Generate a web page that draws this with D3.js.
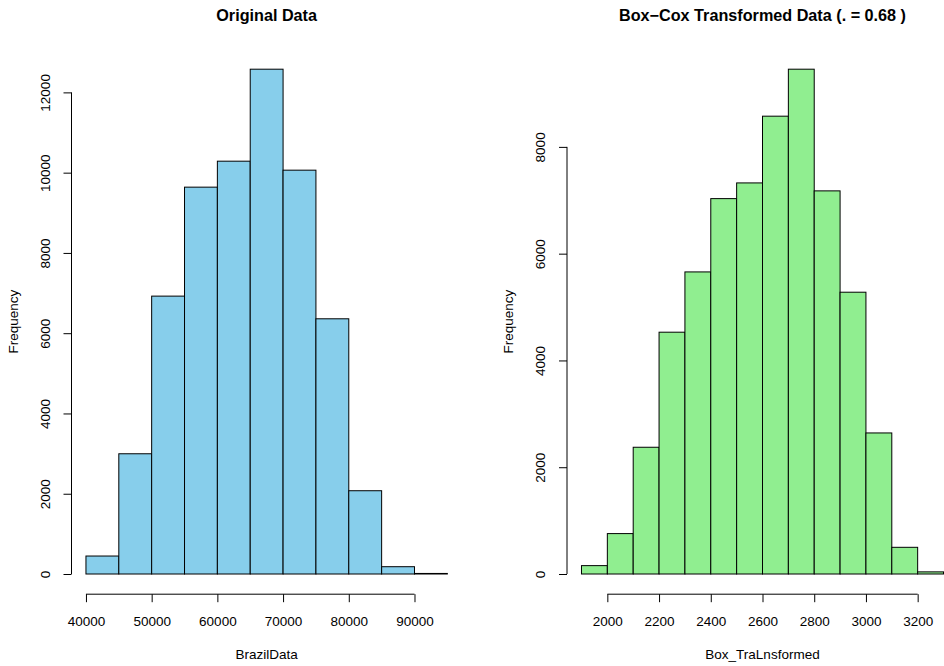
<!DOCTYPE html>
<html>
<head>
<meta charset="utf-8">
<script src="https://cdn.jsdelivr.net/npm/d3@7"></script>
<style>
	body { margin: 0; background: #fff; }
	svg { display: block; font-family: "Liberation Sans", Arial, sans-serif; }
	.tick text { font-size: 13.5px; fill: #000; }
</style>
</head>
<body>
<svg id="chart" width="944" height="666"></svg>
<script>

// Histogram bins, left panel
const brazilBreaks = [40000, 45000, 50000, 55000, 60000, 65000, 70000, 75000, 80000, 85000, 90000, 95000];
const brazilCounts = [448, 2996, 6924, 9639, 10286, 12578, 10062, 6359, 2075, 182, 14];
const brazilXTicks = [40000, 50000, 60000, 70000, 80000, 90000];
const brazilYTicks = [0, 2000, 4000, 6000, 8000, 10000, 12000];

// Histogram bins, right panel
const boxBreaks = [1900, 2000, 2100, 2200, 2300, 2400, 2500, 2600, 2700, 2800, 2900, 3000, 3100, 3200, 3300];
const boxCounts = [157, 757, 2374, 4529, 5658, 7031, 7325, 8575, 9455, 7176, 5278, 2642, 500, 40];
const boxXTicks = [2000, 2200, 2400, 2600, 2800, 3000, 3200];
const boxYTicks = [0, 2000, 4000, 6000, 8000];

const svg = d3.select("#chart");

function drawHist(opts) {

	const breaks = opts.breaks, counts = opts.counts;
	const xlo = breaks[0], xhi = breaks[breaks.length - 1];
	const xpad = (xhi - xlo) * 0.04;
	const ymax = d3.max(counts);

	// R style 4% padding around data range
	const x = d3.scaleLinear()
				.domain([xlo - xpad, xhi + xpad])
				.range([opts.left, opts.right]);

	const y = d3.scaleLinear()
				.domain([-0.04 * ymax, 1.04 * ymax])
				.range([opts.bottom, opts.top]);

	const g = svg.append("g");

	// Bars
	g.selectAll("rect.bar")
		.data(counts)
		.enter()
		.append("rect")
			.attr("class", "bar")
			.attr("x", (d, i) => x(breaks[i]))
			.attr("y", d => y(d))
			.attr("width", (d, i) => x(breaks[i + 1]) - x(breaks[i]))
			.attr("height", d => y(0) - y(d))
			.attr("fill", opts.fill)
			.attr("stroke", "#000")
			.attr("stroke-width", 1);

	// X axis
	const xAxis = d3.axisBottom(x)
					.tickValues(opts.xTicks)
					.tickFormat(d3.format("d"))
					.tickSizeOuter(0)
					.tickSize(8)
					.tickPadding(14);

	const gx = g.append("g")
				.attr("transform", "translate(0," + opts.bottom + ")")
				.call(xAxis);
	gx.select(".domain").remove();
	gx.append("line")
		.attr("x1", x(opts.xTicks[0]))
		.attr("x2", x(opts.xTicks[opts.xTicks.length - 1]))
		.attr("stroke", "#000");
	gx.selectAll(".tick text").attr("dy", "0.71em");

	// Y axis, labels rotated parallel to axis
	const yAxis = d3.axisLeft(y)
					.tickValues(opts.yTicks)
					.tickFormat(d3.format("d"))
					.tickSizeOuter(0)
					.tickSize(8);

	const gy = g.append("g")
				.attr("transform", "translate(" + opts.left + ",0)")
				.call(yAxis);
	gy.select(".domain").remove();
	gy.append("line")
		.attr("y1", y(opts.yTicks[0]))
		.attr("y2", y(opts.yTicks[opts.yTicks.length - 1]))
		.attr("stroke", "#000");
	gy.selectAll(".tick text")
		.attr("x", null)
		.attr("dy", null)
		.attr("text-anchor", "middle")
		.attr("transform", "translate(-22,0) rotate(-90)");

	// Titles
	const cx = (opts.left + opts.right) / 2;
	g.append("text")
		.attr("x", cx)
		.attr("y", 21)
		.attr("text-anchor", "middle")
		.style("font-size", "16.2px")
		.style("font-weight", "bold")
		.text(opts.title);

	g.append("text")
		.attr("x", cx)
		.attr("y", 659)
		.attr("text-anchor", "middle")
		.style("font-size", "13.5px")
		.text(opts.xlab);

	g.append("text")
		.attr("transform", "translate(" + (opts.left - 54) + "," + ((opts.top + opts.bottom) / 2) + ") rotate(-90)")
		.attr("text-anchor", "middle")
		.style("font-size", "13.5px")
		.text("Frequency");
}

drawHist({
	breaks: brazilBreaks,
	counts: brazilCounts,
	xTicks: brazilXTicks,
	yTicks: brazilYTicks,
	left: 71.5, right: 461.8, top: 49, bottom: 594.2,
	fill: "#87CEEB",
	title: "Original Data",
	xlab: "BrazilData"
});

drawHist({
	breaks: boxBreaks,
	counts: boxCounts,
	xTicks: boxXTicks,
	yTicks: boxYTicks,
	left: 567, right: 958, top: 49, bottom: 594.2,
	fill: "#90EE90",
	title: "Box\u2212Cox Transformed Data (. = 0.68 )",
	xlab: "Box_TraLnsformed"
});

</script>
</body>
</html>
